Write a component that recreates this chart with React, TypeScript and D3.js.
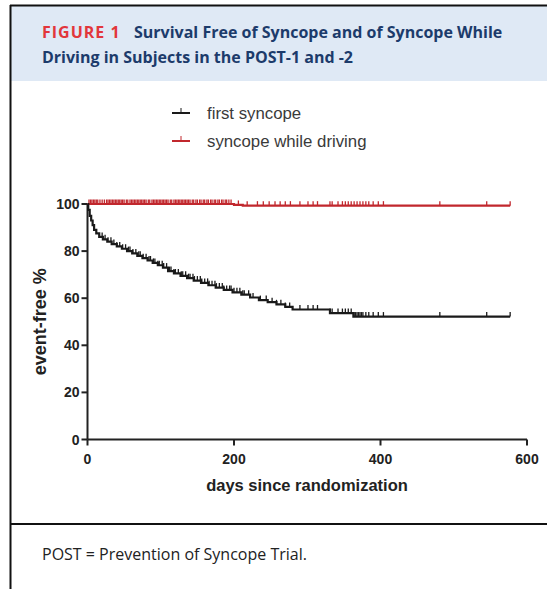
import React from 'react';
import * as d3 from 'd3';

// Kaplan-Meier steps: [day, % event-free]
const firstSyncopeSteps: [number, number][] = [
  [0, 100], [1, 97.5], [3, 95], [5, 93], [7, 91], [9, 89], [12, 87.5], [16, 86],
  [21, 85], [27, 84], [33, 83], [40, 82], [47, 81], [54, 80], [61, 79], [68, 78],
  [75, 77], [82, 76], [89, 75], [96, 74], [103, 73], [110, 71.5], [118, 70.5],
  [127, 69.5], [136, 68.5], [145, 67.5], [155, 66.5], [165, 65.5], [175, 64.5],
  [186, 63.5], [198, 62.5], [210, 61.5], [222, 60.3], [234, 59.2], [246, 58.3],
  [258, 57.4], [270, 56.3], [280, 55.2], [331, 53.7], [363, 52.2],
];
const drivingSteps: [number, number][] = [
  [0, 100], [200, 99.6], [212, 99.3],
];
const lastDay = 577;

// censored observations (days)
const firstSyncopeCensored = [
  20, 24, 28, 32, 36, 40, 44, 48, 52, 56, 58, 62, 66, 70, 72, 76, 80, 84, 86, 90,
  92, 96, 98, 102, 104, 108, 112, 114, 118, 120, 124, 128, 130, 134, 138, 140, 144,
  146, 150, 154, 156, 160, 164, 166, 170, 174, 176, 180, 184, 186, 190, 194, 196,
  200, 204, 208, 212, 214, 220, 226, 236, 244, 252, 258, 264, 270, 276, 290, 301,
  308, 314, 331, 334, 342, 348, 352, 356, 360, 364, 366, 368, 370, 372, 374, 376,
  380, 384, 390, 397, 404, 481, 545, 577,
];
const drivingCensored = [
  2, 4, 6, 8, 10, 12, 14, 17, 20, 23, 26, 28, 30, 32, 34, 36, 38, 40, 42, 44, 46,
  48, 50, 53, 55, 58, 60, 62, 64, 66, 68, 70, 72, 74, 76, 78, 80, 83, 85, 88, 90,
  92, 94, 96, 98, 100, 102, 104, 106, 108, 110, 113, 115, 118, 120, 122, 124, 126,
  128, 130, 132, 134, 136, 138, 140, 143, 145, 148, 150, 153, 155, 158, 160, 163,
  165, 168, 170, 173, 175, 178, 180, 183, 185, 188, 190, 193, 196, 206, 218, 232,
  240, 248, 256, 263, 270, 277, 290, 301, 308, 314, 331, 334, 342, 348, 352, 356,
  360, 364, 368, 372, 376, 380, 384, 390, 397, 404, 481, 545, 577,
];

const xTicks = [0, 200, 400, 600];
const yTicks = [0, 20, 40, 60, 80, 100];

const legendItems = [
  { label: 'first syncope', color: '#1a1a1a' },
  { label: 'syncope while driving', color: '#c1272d' },
];

const W = 547;
const H = 589;

const x = d3.scaleLinear().domain([0, 600]).range([87.5, 527]);
const y = d3.scaleLinear().domain([0, 100]).range([439.5, 204]);

const stepLine = d3
  .line<[number, number]>()
  .x(d => x(d[0]))
  .y(d => y(d[1]))
  .curve(d3.curveStepAfter);

const valueAt = (steps: [number, number][], day: number) => {
  const i = d3.bisector((d: [number, number]) => d[0]).right(steps, day) - 1;
  return steps[Math.max(0, i)][1];
};

const Curve: React.FC<{ steps: [number, number][]; censored: number[]; color: string }> = ({
  steps,
  censored,
  color,
}) => {
  const pts: [number, number][] = [...steps, [lastDay, steps[steps.length - 1][1]]];
  return (
    <g>
      <path d={stepLine(pts) || ''} fill="none" stroke={color} strokeWidth={2.2} />
      {censored.map((d, i) => {
        const cy = y(valueAt(steps, d));
        return <line key={i} x1={x(d)} x2={x(d)} y1={cy} y2={cy - 4.5} stroke={color} strokeWidth={1.3} />;
      })}
    </g>
  );
};

const App: React.FC = () => {
  const axisFont = '"Liberation Sans", Arial, sans-serif';
  const titleFont = '"Open Sans", "Noto Sans", sans-serif';
  return (
    <div style={{ position: 'absolute', left: 0, top: 0 }}>
      <svg width={W} height={H} style={{ display: 'block', background: '#fff' }}>
        {/* frame and header */}
        <rect x={11} y={6} width={W - 11} height={75} fill="#dfe9f5" />
        <line x1={10} x2={W} y1={5.5} y2={5.5} stroke="#111" strokeWidth={2} />
        <line x1={10.5} x2={10.5} y1={5} y2={H} stroke="#111" strokeWidth={2} />
        <line x1={10} x2={W} y1={524} y2={524} stroke="#111" strokeWidth={2} />

        <text x={42} y={38} fontFamily={titleFont} fontWeight={700} fontSize={16} fill="#1c3b6b">
          <tspan fill="#e2363b" letterSpacing={1}>FIGURE 1</tspan>
          <tspan x={134}>Survival Free of Syncope and of Syncope While</tspan>
        </text>
        <text x={42} y={63} fontFamily={titleFont} fontWeight={700} fontSize={16} fill="#1c3b6b">
          Driving in Subjects in the POST-1 and -2
        </text>

        {/* legend */}
        {legendItems.map((it, i) => {
          const ly = 113 + i * 28;
          return (
            <g key={it.label}>
              <line x1={172} x2={190} y1={ly} y2={ly} stroke={it.color} strokeWidth={2} />
              <line x1={181} x2={181} y1={ly} y2={ly - 5} stroke={it.color} strokeWidth={1} />
              <text x={207} y={ly + 6} fontFamily={axisFont} fontSize={16.8} fill="#3a3a3a">
                {it.label}
              </text>
            </g>
          );
        })}

        {/* axes */}
        <line x1={x(0)} x2={x(600)} y1={y(0)} y2={y(0)} stroke="#222" strokeWidth={2} />
        <line x1={x(0)} x2={x(0)} y1={y(0)} y2={y(100)} stroke="#222" strokeWidth={2} />
        {yTicks.map(t => (
          <g key={t}>
            <line x1={x(0) - 6} x2={x(0)} y1={y(t)} y2={y(t)} stroke="#222" strokeWidth={2} />
            <text x={x(0) - 8} y={y(t) + 5} textAnchor="end" fontFamily={axisFont} fontWeight={700} fontSize={14} fill="#222">
              {t}
            </text>
          </g>
        ))}
        {xTicks.map(t => (
          <g key={t}>
            <line x1={x(t)} x2={x(t)} y1={y(0)} y2={y(0) + 6} stroke="#222" strokeWidth={2} />
            <text x={x(t)} y={y(0) + 24} textAnchor="middle" fontFamily={axisFont} fontWeight={700} fontSize={14} fill="#222">
              {t}
            </text>
          </g>
        ))}
        <text x={307} y={491} textAnchor="middle" fontFamily={axisFont} fontWeight={700} fontSize={16.5} fill="#222">
          days since randomization
        </text>
        <text
          transform={`translate(46, ${y(50)}) rotate(-90)`}
          textAnchor="middle"
          fontFamily={axisFont}
          fontWeight={700}
          fontSize={18}
          fill="#222"
        >
          event-free %
        </text>

        {/* curves */}
        <Curve steps={drivingSteps} censored={drivingCensored} color="#c1272d" />
        <Curve steps={firstSyncopeSteps} censored={firstSyncopeCensored} color="#1a1a1a" />

        {/* footnote */}
        <text x={42} y={560} fontFamily={titleFont} fontSize={16} fill="#222">
          POST = Prevention of Syncope Trial.
        </text>
      </svg>
    </div>
  );
};

export default App;
